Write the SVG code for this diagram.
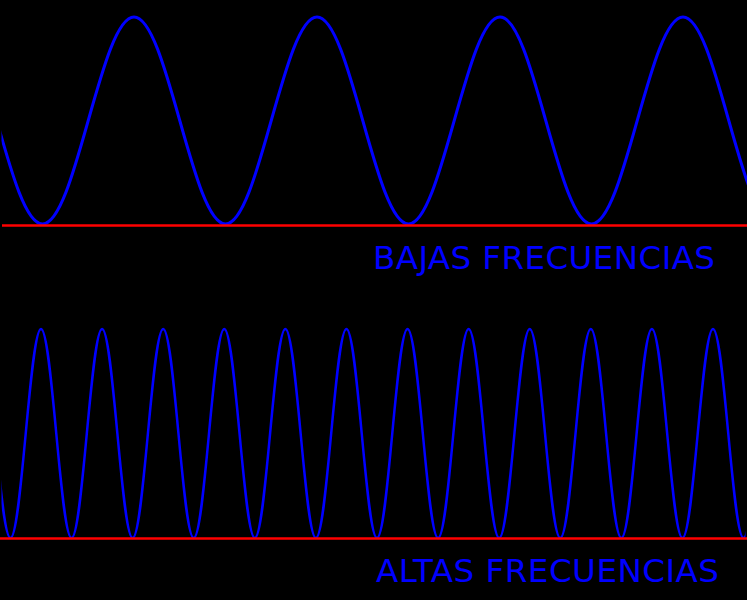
<svg xmlns="http://www.w3.org/2000/svg" width="747" height="600" viewBox="0 0 747 600">
  <style>
    .wave { fill: none; stroke: #0000ff; stroke-linejoin: round; }
    .base { stroke: #ff0000; stroke-width: 2.5; }
    .lbl { font-family: "DejaVu Sans", "Liberation Sans", sans-serif; font-size: 32.5px; fill: #0000ff; }
  </style>
  <defs>
    <clipPath id="clipTop"><rect x="1.5" y="0" width="746" height="300"/></clipPath>
    <clipPath id="clipBot"><rect x="1.5" y="300" width="744" height="300"/></clipPath>
  </defs>
  <rect x="0" y="0" width="747" height="600" fill="#000000"/>
  <g id="low-frequency">
    <path class="wave" stroke-width="3" clip-path="url(#clipTop)" d="M-49,17
      c16.56,0 30.83,50.48 45.75,103.5 c14.92,53.02 29.19,103.5 45.75,103.5 c16.56,0 30.83,-50.48 45.75,-103.5 c14.92,-53.02 29.19,-103.5 45.75,-103.5
      c16.56,0 30.83,50.48 45.75,103.5 c14.92,53.02 29.19,103.5 45.75,103.5 c16.56,0 30.83,-50.48 45.75,-103.5 c14.92,-53.02 29.19,-103.5 45.75,-103.5
      c16.56,0 30.83,50.48 45.75,103.5 c14.92,53.02 29.19,103.5 45.75,103.5 c16.56,0 30.83,-50.48 45.75,-103.5 c14.92,-53.02 29.19,-103.5 45.75,-103.5
      c16.56,0 30.83,50.48 45.75,103.5 c14.92,53.02 29.19,103.5 45.75,103.5 c16.56,0 30.83,-50.48 45.75,-103.5 c14.92,-53.02 29.19,-103.5 45.75,-103.5
      c16.56,0 30.83,50.48 45.75,103.5 c14.92,53.02 29.19,103.5 45.75,103.5 c16.56,0 30.83,-50.48 45.75,-103.5 c14.92,-53.02 29.19,-103.5 45.75,-103.5"/>
    <line class="base" x1="2" y1="225.5" x2="747" y2="225.5"/>
    <text class="lbl" x="373" y="269" textLength="342" lengthAdjust="spacing">BAJAS FRECUENCIAS</text>
  </g>
  <g id="high-frequency">
    <path class="wave" stroke-width="2.5" clip-path="url(#clipBot)" d="M-20.09,329
      c5.527,0 10.291,50.96 15.2725,104.5 c4.981,53.54 9.745,104.5 15.2725,104.5 c5.527,0 10.291,-50.96 15.2725,-104.5 c4.981,-53.54 9.745,-104.5 15.2725,-104.5
      c5.527,0 10.291,50.96 15.2725,104.5 c4.981,53.54 9.745,104.5 15.2725,104.5 c5.527,0 10.291,-50.96 15.2725,-104.5 c4.981,-53.54 9.745,-104.5 15.2725,-104.5
      c5.527,0 10.291,50.96 15.2725,104.5 c4.981,53.54 9.745,104.5 15.2725,104.5 c5.527,0 10.291,-50.96 15.2725,-104.5 c4.981,-53.54 9.745,-104.5 15.2725,-104.5
      c5.527,0 10.291,50.96 15.2725,104.5 c4.981,53.54 9.745,104.5 15.2725,104.5 c5.527,0 10.291,-50.96 15.2725,-104.5 c4.981,-53.54 9.745,-104.5 15.2725,-104.5
      c5.527,0 10.291,50.96 15.2725,104.5 c4.981,53.54 9.745,104.5 15.2725,104.5 c5.527,0 10.291,-50.96 15.2725,-104.5 c4.981,-53.54 9.745,-104.5 15.2725,-104.5
      c5.527,0 10.291,50.96 15.2725,104.5 c4.981,53.54 9.745,104.5 15.2725,104.5 c5.527,0 10.291,-50.96 15.2725,-104.5 c4.981,-53.54 9.745,-104.5 15.2725,-104.5
      c5.527,0 10.291,50.96 15.2725,104.5 c4.981,53.54 9.745,104.5 15.2725,104.5 c5.527,0 10.291,-50.96 15.2725,-104.5 c4.981,-53.54 9.745,-104.5 15.2725,-104.5
      c5.527,0 10.291,50.96 15.2725,104.5 c4.981,53.54 9.745,104.5 15.2725,104.5 c5.527,0 10.291,-50.96 15.2725,-104.5 c4.981,-53.54 9.745,-104.5 15.2725,-104.5
      c5.527,0 10.291,50.96 15.2725,104.5 c4.981,53.54 9.745,104.5 15.2725,104.5 c5.527,0 10.291,-50.96 15.2725,-104.5 c4.981,-53.54 9.745,-104.5 15.2725,-104.5
      c5.527,0 10.291,50.96 15.2725,104.5 c4.981,53.54 9.745,104.5 15.2725,104.5 c5.527,0 10.291,-50.96 15.2725,-104.5 c4.981,-53.54 9.745,-104.5 15.2725,-104.5
      c5.527,0 10.291,50.96 15.2725,104.5 c4.981,53.54 9.745,104.5 15.2725,104.5 c5.527,0 10.291,-50.96 15.2725,-104.5 c4.981,-53.54 9.745,-104.5 15.2725,-104.5
      c5.527,0 10.291,50.96 15.2725,104.5 c4.981,53.54 9.745,104.5 15.2725,104.5 c5.527,0 10.291,-50.96 15.2725,-104.5 c4.981,-53.54 9.745,-104.5 15.2725,-104.5
      c5.527,0 10.291,50.96 15.2725,104.5 c4.981,53.54 9.745,104.5 15.2725,104.5 c5.527,0 10.291,-50.96 15.2725,-104.5 c4.981,-53.54 9.745,-104.5 15.2725,-104.5"/>
    <line class="base" x1="0" y1="538.5" x2="747" y2="538.5"/>
    <text class="lbl" x="376" y="582" textLength="343" lengthAdjust="spacing">ALTAS FRECUENCIAS</text>
  </g>
</svg>
